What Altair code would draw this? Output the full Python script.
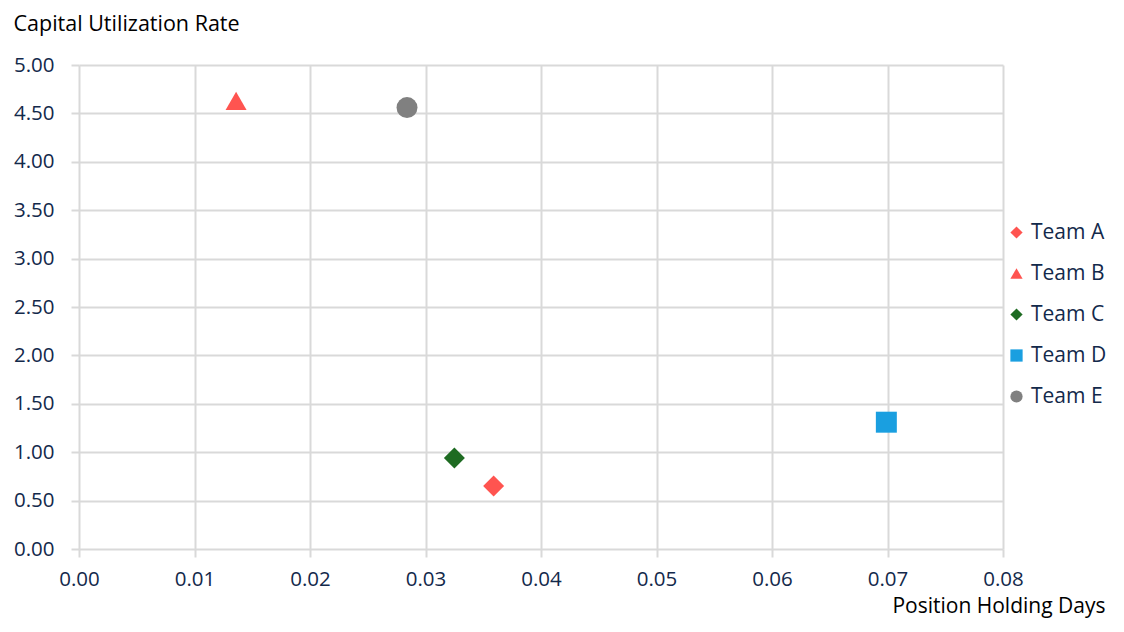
import altair as alt
import pandas as pd

teams = ["Team A", "Team B", "Team C", "Team D", "Team E"]
holding_days = [0.0359, 0.0136, 0.0325, 0.0699, 0.0284]
utilization = [0.65, 4.63, 0.94, 1.31, 4.56]
colors = ["#FF5450", "#FF5450", "#1E6B22", "#1A9FE0", "#808080"]
shapes = ["diamond", "triangle-up", "diamond", "square", "circle"]

df = pd.DataFrame({"team": teams, "x": holding_days, "y": utilization})

FONT = "Open Sans"
LABEL_COLOR = "#13294B"

chart = alt.Chart(df).mark_point(filled=True, opacity=1, size=440).encode(
    x=alt.X("x:Q",
            scale=alt.Scale(domain=[0, 0.08], nice=False),
            axis=alt.Axis(values=[0, 0.01, 0.02, 0.03, 0.04, 0.05, 0.06, 0.07, 0.08],
                          format=".2f", title="Position Holding Days",
                          titleAnchor="end", titleAlign="right", titleAngle=0,
                          titleX=1026, titleY=57, titleBaseline="middle",
                          titleFontSize=21,
                          labelPadding=12, labelFlush=False)),
    y=alt.Y("y:Q",
            scale=alt.Scale(domain=[0, 5], nice=False),
            axis=alt.Axis(values=[0, 0.5, 1, 1.5, 2, 2.5, 3, 3.5, 4, 4.5, 5],
                          format=".2f", title="Capital Utilization Rate",
                          titleAngle=0, titleAlign="left", titleBaseline="middle",
                          titleX=-66, titleY=-41, labelPadding=17)),
    color=alt.Color("team:N", scale=alt.Scale(domain=teams, range=colors),
                    legend=alt.Legend(title=None, orient="none", legendX=927, legendY=157,
                                      symbolSize=150, rowPadding=19, labelFontSize=21,
                                      labelFont=FONT, labelColor=LABEL_COLOR, labelOffset=4)),
    shape=alt.Shape("team:N", scale=alt.Scale(domain=teams, range=shapes), legend=None),
).properties(
    width=924, height=484,
    autosize=alt.AutoSizeParams(type="none"),
    padding={"left": 71, "top": 57, "right": 105, "bottom": 75},
).configure_view(stroke=None).configure_axis(
    grid=True, gridColor="#D9D9D9", gridWidth=2,
    domain=False, ticks=True, tickColor="#D9D9D9", tickWidth=2, tickSize=8,
    labelFont=FONT, labelFontSize=20.5, labelColor=LABEL_COLOR,
    titleFont=FONT, titleFontSize=21.5, titleColor="#000000", titleFontWeight="normal",
).configure_legend(symbolStrokeWidth=0)

chart.save("out.html", embed_options={"renderer": "svg", "actions": False})
